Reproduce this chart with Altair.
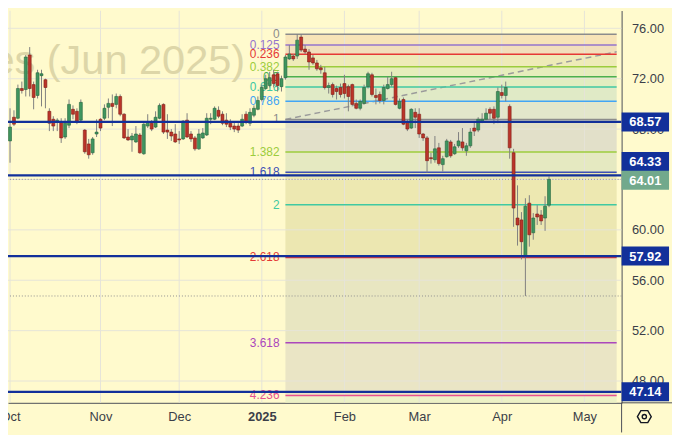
import json
import altair as alt
import pandas as pd

# ---------------- data ----------------
opens = [67.06, 68.94, 68.86, 71.22, 71.14, 73.88, 71.53, 70.67, 72.24, 71.92,
         69.41, 68.78, 68.55, 68.55, 67.37, 68.31, 69.57, 69.41, 68.71, 67.92,
         66.82, 66.12, 67.61, 68.78, 68.86, 69.73, 70.04, 69.96, 70.59, 69.18,
         67.37, 67.14, 66.98, 67.53, 66.04, 68.24, 68.47, 68.16, 68.86, 69.96,
         67.92, 67.76, 67.61, 67.22, 67.22, 68.71, 67.61, 67.30, 66.43, 67.30,
         67.53, 68.78, 68.78, 69.49, 69.18, 68.71, 68.47, 68.24, 68.24, 68.24,
         69.18, 68.47, 69.10, 69.57, 70.35, 71.22, 71.45, 72.31, 72.39, 71.37,
         72.08, 73.57, 73.80, 73.80, 75.30, 74.35, 74.12, 73.65, 73.25, 72.86,
         72.47, 71.30, 71.53, 71.22, 71.30, 71.61, 71.37, 71.53, 70.04, 69.65,
         70.04, 71.37, 72.31, 70.67, 70.75, 70.27, 71.22, 71.53, 72.08, 69.65,
         70.35, 68.55, 68.08, 69.33, 69.18, 67.61, 67.30, 65.73, 65.57, 66.51,
         65.18, 65.80, 66.98, 66.04, 66.67, 66.98, 66.28, 66.67, 68.08, 67.92,
         68.63, 68.78, 69.57, 69.57, 68.94, 70.90, 70.67, 69.80, 66.12, 60.94,
         60.79, 57.88, 62.12, 59.77, 61.26, 61.18, 60.94, 61.96]
highs = [69.65, 69.49, 71.53, 71.77, 73.88, 74.51, 71.77, 72.71, 72.71, 72.00,
         69.65, 69.02, 68.86, 68.86, 68.86, 70.35, 69.88, 69.65, 70.35, 68.00,
         67.22, 67.37, 68.78, 68.86, 69.96, 70.43, 70.75, 70.82, 70.75, 69.26,
         68.00, 67.69, 68.24, 67.69, 68.47, 69.18, 68.71, 69.41, 70.04, 70.04,
         69.18, 68.00, 68.39, 67.84, 68.71, 69.26, 67.84, 67.45, 68.00, 68.08,
         69.26, 69.26, 69.80, 69.80, 69.41, 69.26, 68.78, 68.55, 68.47, 69.18,
         69.41, 69.65, 69.88, 70.59, 71.53, 72.31, 72.55, 72.71, 72.55, 72.24,
         73.88, 74.67, 73.96, 75.53, 75.53, 74.67, 74.35, 73.88, 73.49, 73.10,
         72.94, 71.69, 71.69, 71.45, 71.61, 72.31, 71.53, 71.61, 70.35, 70.35,
         71.53, 72.55, 72.47, 71.22, 70.98, 71.53, 72.16, 72.55, 72.16, 70.43,
         70.51, 68.78, 69.65, 69.65, 69.65, 67.69, 67.45, 66.12, 67.45, 66.90,
         65.88, 67.22, 67.14, 66.82, 67.76, 68.08, 66.90, 68.08, 68.63, 68.94,
         69.26, 69.65, 69.73, 69.80, 71.30, 71.53, 71.77, 69.96, 66.43, 63.53,
         61.41, 62.51, 62.75, 61.33, 61.96, 61.57, 62.67, 64.24]
lows = [65.33, 68.24, 68.78, 70.82, 70.59, 70.59, 69.57, 70.43, 69.80, 69.65,
        67.84, 67.84, 67.84, 66.90, 67.22, 68.08, 68.78, 68.39, 68.55, 66.04,
        65.65, 65.96, 67.37, 67.84, 68.71, 68.86, 68.24, 69.65, 69.02, 67.22,
        67.06, 66.20, 66.90, 66.04, 65.96, 68.08, 67.84, 68.08, 68.78, 67.61,
        67.22, 67.06, 66.90, 66.82, 67.14, 67.30, 66.98, 66.28, 66.35, 67.22,
        67.45, 68.39, 68.71, 68.86, 68.31, 68.16, 67.92, 67.76, 67.69, 68.16,
        68.39, 68.24, 68.94, 69.49, 70.20, 71.14, 71.30, 71.30, 70.98, 70.98,
        71.92, 73.49, 73.41, 73.57, 74.12, 73.96, 72.71, 73.10, 72.63, 72.39,
        71.14, 70.82, 70.51, 70.35, 70.51, 70.43, 69.41, 69.80, 69.57, 69.49,
        69.96, 71.22, 70.59, 69.96, 70.04, 69.96, 71.14, 71.37, 69.88, 69.57,
        68.31, 67.84, 68.00, 68.08, 67.30, 67.06, 64.55, 65.26, 65.33, 65.10,
        64.63, 65.73, 65.73, 65.96, 66.51, 66.28, 65.88, 66.51, 67.45, 67.76,
        68.47, 68.71, 68.78, 68.39, 68.47, 70.43, 70.20, 65.65, 60.24, 58.75,
        57.65, 54.75, 58.67, 59.22, 60.39, 60.39, 59.92, 61.80]
closes = [68.16, 68.39, 71.22, 71.06, 73.72, 71.22, 70.51, 72.47, 72.39, 71.30,
          68.47, 68.24, 68.71, 67.30, 68.47, 69.96, 69.18, 68.63, 70.12, 66.20,
          65.96, 67.22, 67.76, 68.08, 69.65, 70.04, 69.80, 70.59, 69.18, 67.30,
          67.14, 67.45, 67.61, 66.12, 68.39, 68.55, 68.00, 68.94, 69.88, 67.76,
          67.76, 67.45, 66.98, 67.14, 68.63, 67.37, 67.22, 66.43, 67.61, 67.69,
          68.86, 68.86, 69.65, 69.02, 68.47, 68.39, 68.16, 68.00, 67.92, 68.78,
          68.55, 69.33, 69.65, 70.27, 71.30, 72.00, 72.08, 71.61, 71.45, 72.00,
          73.72, 73.96, 73.57, 75.06, 74.27, 74.12, 73.33, 73.25, 72.78, 72.71,
          71.30, 71.45, 70.75, 70.98, 70.75, 70.82, 70.59, 69.96, 69.65, 70.20,
          71.30, 72.39, 70.75, 70.51, 70.27, 71.30, 71.53, 72.00, 69.96, 70.20,
          68.39, 68.00, 69.57, 68.94, 67.61, 67.30, 65.49, 65.65, 66.43, 65.26,
          65.65, 67.06, 65.88, 66.59, 67.06, 66.51, 66.67, 67.76, 67.84, 68.78,
          68.78, 69.26, 69.26, 68.86, 70.98, 70.67, 71.30, 66.51, 61.73, 60.39,
          59.06, 61.88, 59.61, 60.94, 61.02, 60.71, 61.88, 64.01]

month_ticks = [0, 23, 43, 64, 85, 104, 125, 146]
month_labels = ["Oct", "Nov", "Dec", "2025", "Feb", "Mar", "Apr", "May"]
price_ticks = [48, 52, 56, 60, 64, 68, 72, 76]

fib_ratios = [0, 0.125, 0.236, 0.382, 0.5, 0.618, 0.786, 1, 1.382, 1.618, 2, 2.618, 3.618, 4.236]
fib_labels = ["0", "0.125", "0.236", "0.382", "0.5", "0.618", "0.786", "1",
              "1.382", "1.618", "2", "2.618", "3.618", "4.236"]
fib_p0 = 75.53      # level 0 price
fib_p1 = 68.76      # level 1 price
fib_start = 70      # bar where the tool starts
trend_from = (70, 68.76)
trend_to = (154.2, 74.14)

key_levels = [68.57, 57.92, 47.14]
key_level_shifted = 64.33

title_text = "Futures (Jun 2025)"

# ---------------- styles ----------------
FONT = "Liberation Sans"
BG = "#fffacd"
fib_colors = ["#8c8c8c", "#9575cd", "#e53935", "#9ccc3c", "#4caf50", "#40c9a2", "#42a5f5",
              "#8c8c8c", "#9ccc3c", "#3f51b5", "#40c9a2", "#e53935", "#ab47bc", "#e8508f"]
zone_colors = ["#f7e4b7", "#f2dfbc", "#eeebb8", "#e6edbc", "#e2edc0", "#e0eac6", "#e3e7cb",
               "#e2e0c9", "#e5e9c1", "#ede8b1", "#ece7b1", "#e8e6c1", "#eae5c5", "#ecf1c6"]
GRID = "#e6e4d8"
NAVY = "#12309a"
UP, UP_EDGE = "#3f955f", "#25643d"
DN, DN_EDGE = "#bb3429", "#7d1f18"
WICK = "#7f7f7f"
AXIS = "#4a4d57"
TXT = "#3b3e48"

W, H = 621, 397
X_MIN, X_MAX = 0.74, 154.2
Y_MAX = 77.41
Y_MIN = 46.27

xs = alt.Scale(domain=[X_MIN, X_MAX], nice=False, zero=False)
ys = alt.Scale(domain=[Y_MIN, Y_MAX], nice=False, zero=False)

x_axis = alt.Axis(
    values=month_ticks,
    labelExpr=f"{json.dumps(month_labels)}[indexof({json.dumps(month_ticks)}, datum.value)]",
    title=None, grid=False, ticks=False, domainColor=AXIS, domainWidth=1,
    labelFont=FONT, labelFontSize=13, labelColor=TXT, labelPadding=8,
    labelOverlap=False, labelBound=False,
    labelFontWeight={"condition": {"test": "datum.value === 64", "value": "bold"},
                     "value": "normal"})
y_axis = alt.Axis(
    orient="right", values=price_ticks, format=".2f", title=None, grid=False,
    ticks=False, domainColor=AXIS, domainWidth=1, labelFont=FONT, labelFontSize=13,
    labelColor=TXT, labelPadding=10, labelOverlap=False)


def X(f, **kw):
    return alt.X(f, type="quantitative", scale=xs, axis=x_axis, **kw)


def Y(f, **kw):
    return alt.Y(f, type="quantitative", scale=ys, axis=y_axis, **kw)


n = len(opens)
candles = pd.DataFrame({"i": list(range(n)), "open": opens, "high": highs,
                        "low": lows, "close": closes})
candles["up"] = [c >= o for o, c in zip(opens, closes)]

fib_prices = [fib_p0 - r * (fib_p0 - fib_p1) for r in fib_ratios]
fib_df = pd.DataFrame({"price": fib_prices, "label": fib_labels, "color": fib_colors,
                       "x": fib_start, "x2": X_MAX})
zone_df = pd.DataFrame({"top": fib_prices, "bot": fib_prices[1:] + [Y_MIN],
                        "color": zone_colors, "x": fib_start, "x2": X_MAX})

# ---------------- layers ----------------
zones = alt.Chart(zone_df).mark_rect(clip=True).encode(
    x=X("x"), x2="x2", y=Y("top"), y2="bot", color=alt.Color("color:N", scale=None))

grid_x = alt.Chart(pd.DataFrame({"t": month_ticks})).mark_rule(
    color=GRID, strokeWidth=1, clip=True).encode(x=X("t"))
grid_y = alt.Chart(pd.DataFrame({"p": price_ticks})).mark_rule(
    color=GRID, strokeWidth=1, clip=True).encode(y=Y("p"))

watermark = alt.Chart(pd.DataFrame({"t": [title_text]})).mark_text(
    align="right", baseline="alphabetic", font=FONT, fontSize=42, color="#ddd6a8"
).encode(x=alt.value(240), y=alt.value(64), text="t:N")

trend = alt.Chart(pd.DataFrame({"x": [trend_from[0]], "y": [trend_from[1]],
                                "x2": [trend_to[0]], "y2": [trend_to[1]]})).mark_rule(
    color="#9b9b9b", strokeWidth=1.5, strokeDash=[6, 4], clip=True
).encode(x=X("x"), y=Y("y"), x2="x2", y2="y2")

fib_lines = alt.Chart(fib_df).mark_rule(strokeWidth=1.5, clip=True).encode(
    x=X("x"), x2="x2", y=Y("price"), color=alt.Color("color:N", scale=None))

fib_text = alt.Chart(fib_df).mark_text(
    align="right", baseline="middle", dx=-6, font=FONT, fontSize=12
).encode(x=X("x"), y=Y("price"), text="label:N", color=alt.Color("color:N", scale=None))

dotted = alt.Chart(pd.DataFrame({"p": [closes[-1], min(lows)]})).mark_rule(
    color="#8e8e8e", strokeWidth=1, strokeDash=[1, 2], clip=True).encode(y=Y("p"))

wicks = alt.Chart(candles).mark_rule(color=WICK, strokeWidth=1, clip=True).encode(
    x=X("i"), y=Y("low"), y2="high")

bodies = alt.Chart(candles).mark_bar(size=3, strokeWidth=0.6, clip=True).encode(
    x=X("i"), y=Y("open"), y2="close",
    fill=alt.condition("datum.up", alt.value(UP), alt.value(DN)),
    stroke=alt.condition("datum.up", alt.value(UP_EDGE), alt.value(DN_EDGE)))

navy = alt.Chart(pd.DataFrame({"p": key_levels + [key_level_shifted]})).mark_rule(
    color=NAVY, strokeWidth=2.2, clip=True).encode(y=Y("p"))

BOX = "M-1,-0.4L1,-0.4L1,0.4L-1,0.4Z"
box_x = alt.value(W + 24)


def price_box(vals, color, yoff=0):
    df = pd.DataFrame({"p": vals, "t": [f"{v:.2f}" for v in vals]})
    b = alt.Chart(df).mark_point(shape=BOX, filled=True, size=48 * 48, opacity=1,
                                 color=color, yOffset=yoff).encode(x=box_x, y=Y("p"))
    t = alt.Chart(df).mark_text(font=FONT, fontSize=13, fontWeight="bold", color="white",
                                align="center", baseline="middle", yOffset=yoff + 0.5
                                ).encode(x=box_x, y=Y("p"), text="t:N")
    return b + t


boxes = (price_box(key_levels, NAVY) + price_box([key_level_shifted], NAVY, -14)
         + price_box([closes[-1]], "#72a98c", 1))

one = pd.DataFrame({"a": [0]})
ext_v = alt.Chart(one).mark_rule(color=AXIS, strokeWidth=1).encode(
    x=alt.value(W), y=alt.value(H), y2=alt.value(H + 30))
ext_h = alt.Chart(one).mark_rule(color=AXIS, strokeWidth=1).encode(
    x=alt.value(W), x2=alt.value(W + 51), y=alt.value(H))
HEX = "M-1,0L-0.5,-0.866L0.5,-0.866L1,0L0.5,0.866L-0.5,0.866Z"
icon_hex = alt.Chart(one).mark_point(shape=HEX, filled=False, size=196, opacity=1,
                                     color="#131722", strokeWidth=1.4).encode(
    x=alt.value(W + 23), y=alt.value(H + 14))
icon_dot = alt.Chart(one).mark_point(shape="circle", filled=False, size=18, opacity=1,
                                     color="#131722", strokeWidth=1.4).encode(
    x=alt.value(W + 23), y=alt.value(H + 14))

chart = alt.layer(
    zones, grid_x, grid_y, watermark, trend, fib_lines, dotted, fib_text,
    wicks, bodies, navy, boxes, ext_v, ext_h, icon_hex, icon_dot
).properties(
    width=W, height=H,
    autosize=alt.AutoSizeParams(type="none"),
    padding={"left": 0, "top": 0, "right": 51, "bottom": 30},
    background=BG,
).configure_view(stroke=None)

chart.save("out.html", embed_options={"renderer": "svg", "actions": False})
